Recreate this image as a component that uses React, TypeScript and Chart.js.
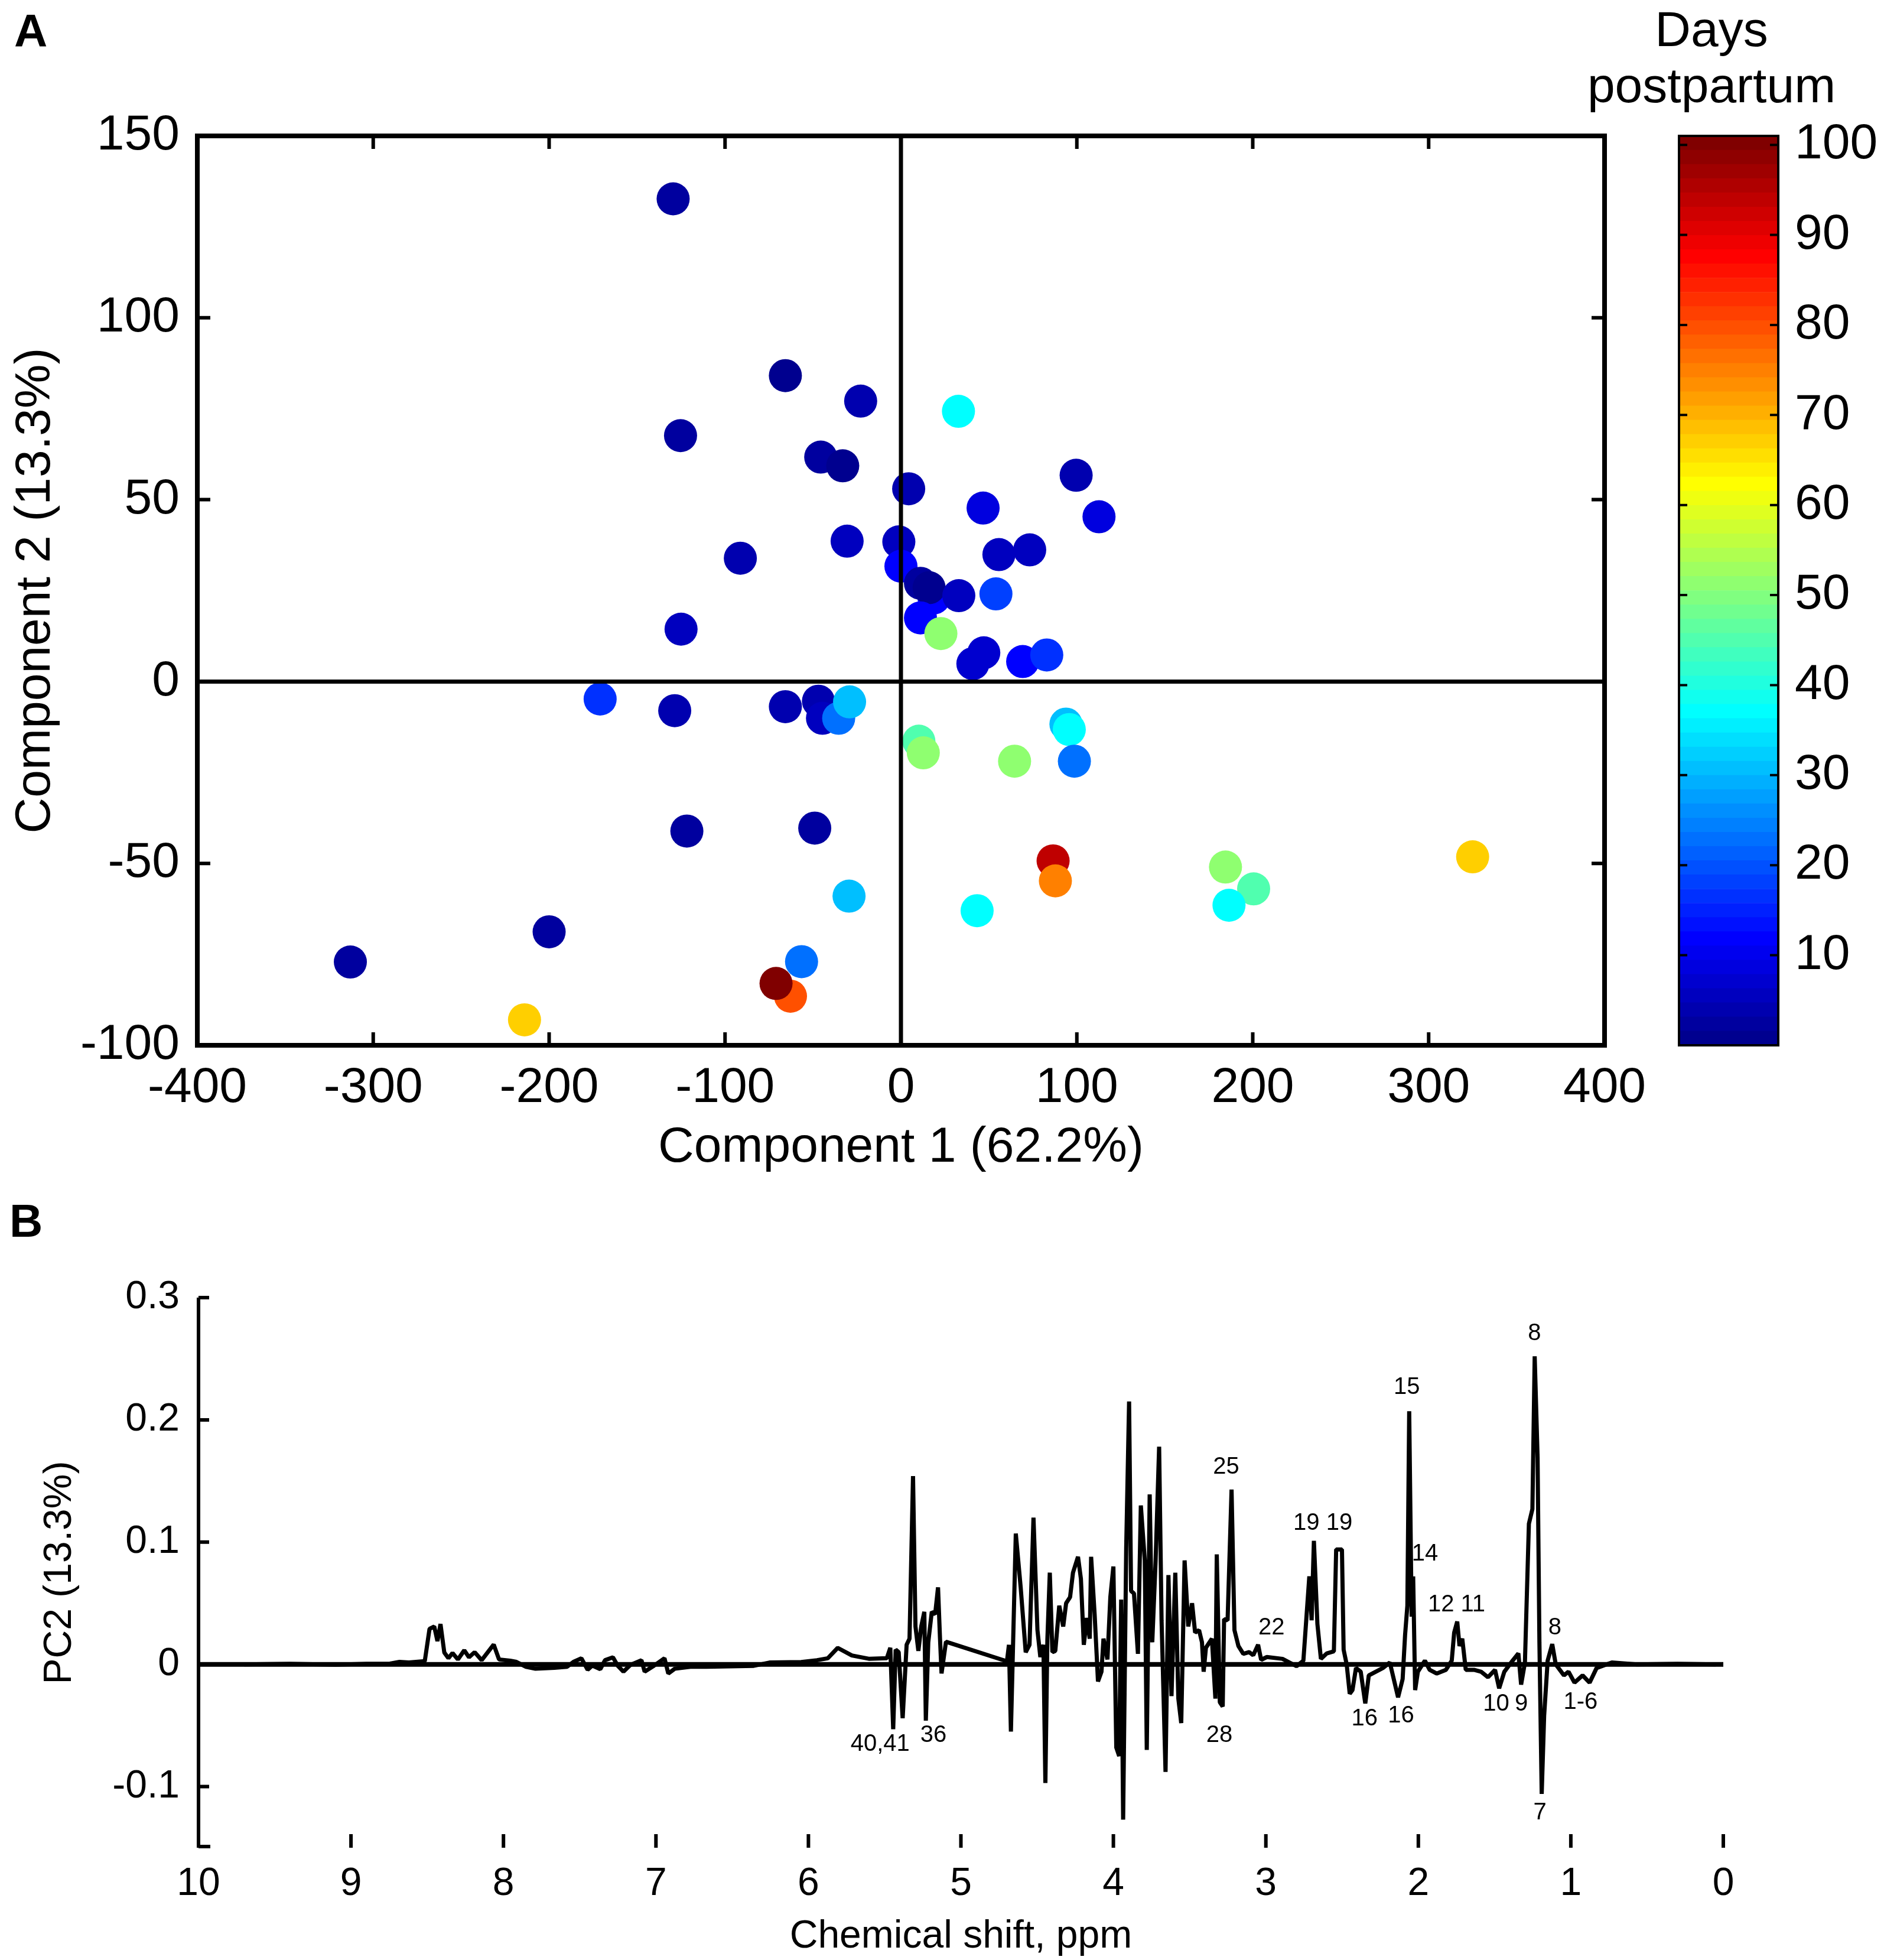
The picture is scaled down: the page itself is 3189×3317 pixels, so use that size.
import { useEffect, useRef } from 'react';
import { Chart, registerables } from 'chart.js';

Chart.register(...registerables);

const FONT = '"Liberation Sans", Arial, Helvetica, sans-serif';
Chart.defaults.color = '#000';
Chart.defaults.font.family = FONT;

// ---- Panel A: PCA scores, coloured by days postpartum
const pc1 = [-129.5, -65.7, -22.9, -125.3, -45.6, -33.1, 4.4, 99.6, 112.6, 46.7, -91.3, -30.6, -1.2, 0, 18.8, 11.1, 16.0, 32.9, 55.7, 73.2, 54.0, 11.1, 22.7, -125, 40.9, 47.1, 69.2, 82.9, 32.7, -171, -128.6, -65.7, -46.9, -44.6, -35.4, -29.2, 10.2, 12.7, 64.6, 93.8, 95.7, 98.6, -121.7, -49, 86.5, 87.8, 184.5, 200.5, 186.5, 325, -29.5, 43.3, -200, -313, -56.5, -62.8, -71, -214];
const pc2 = [132.7, 84.1, 77.1, 67.6, 61.7, 59.3, 53.0, 56.7, 45.3, 47.7, 33.9, 38.6, 38.4, 31.7, 23.0, 27.0, 25.8, 23.6, 34.9, 36.2, 24.1, 17.5, 13.2, 14.4, 4.9, 7.9, 5.5, 7.3, 74.3, -4.8, -8.0, -6.9, -5.4, -10.1, -10.1, -5.6, -16.4, -19.6, -21.9, -11.7, -13.2, -21.9, -41.1, -40.3, -49.3, -54.8, -51, -57, -61.5, -48.2, -59, -63, -68.8, -77.1, -77, -86.5, -83, -93];
const days = [2, 1, 4, 2, 3, 1, 4, 4, 9, 9, 4, 6, 6, 12, 12, 2, 1, 5, 6, 6, 18, 12, 51, 6, 7, 7, 12, 16, 37, 16, 4, 4, 4, 6, 23, 31, 45, 51, 51, 31, 37, 23, 2, 2, 94, 75, 51, 45, 37, 67, 31, 37, 2, 2, 23, 80, 100, 67];
const pc1Ticks = [-400, -300, -200, -100, 0, 100, 200, 300, 400];
const pc2Ticks = [-100, -50, 0, 50, 100, 150];
const dayTicks = [10, 20, 30, 40, 50, 60, 70, 80, 90, 100];
const DAY_MAX = 101;
const JET_LEVELS = 64;

// ---- Panel B: PC2 loadings
const ppm = [
  9.70, 9.40, 9.10, 8.90, 8.745, 8.682, 8.620, 8.516, 8.485, 8.454, 8.433, 8.413, 8.388, 8.361, 8.334, 8.299,
  8.257, 8.226, 8.189, 8.143, 8.064, 8.029, 7.956, 7.915, 7.852, 7.790, 7.666, 7.583, 7.541, 7.489, 7.448, 7.417,
  7.365, 7.334, 7.282, 7.251, 7.213, 7.168, 7.095, 7.074, 7.012, 6.944, 6.919, 6.877, 6.774, 6.670, 6.359, 6.255,
  6.047, 5.944, 5.873, 5.808, 5.715, 5.600, 5.486, 5.463, 5.444, 5.428, 5.408, 5.382, 5.356, 5.337, 5.314, 5.298,
  5.279, 5.260, 5.240, 5.230, 5.214, 5.191, 5.169, 5.150, 5.137, 5.127, 5.098, 4.698, 4.685, 4.672, 4.640, 4.608,
  4.575, 4.550, 4.524, 4.498, 4.479, 4.459, 4.446, 4.433, 4.417, 4.400, 4.381, 4.355, 4.329, 4.310, 4.284, 4.265,
  4.232, 4.213, 4.194, 4.174, 4.155, 4.146, 4.123, 4.101, 4.078, 4.065, 4.039, 4.020, 4.000, 3.981, 3.962, 3.949,
  3.936, 3.916, 3.897, 3.884, 3.865, 3.839, 3.820, 3.794, 3.781, 3.762, 3.745, 3.723, 3.700, 3.684, 3.658, 3.639,
  3.619, 3.594, 3.574, 3.555, 3.533, 3.509, 3.484, 3.464, 3.438, 3.419, 3.408, 3.393, 3.354, 3.331, 3.322, 3.302,
  3.283, 3.274, 3.251, 3.225, 3.206, 3.180, 3.148, 3.109, 3.083, 3.051, 3.031, 2.993, 2.891, 2.799, 2.754, 2.715,
  2.700, 2.685, 2.662, 2.639, 2.600, 2.554, 2.539, 2.501, 2.490, 2.470, 2.450, 2.432, 2.409, 2.378, 2.348, 2.325,
  2.279, 2.233, 2.187, 2.133, 2.103, 2.087, 2.072, 2.060, 2.044, 2.034, 2.021, 2.003, 1.957, 1.926, 1.880, 1.819,
  1.781, 1.765, 1.745, 1.730, 1.712, 1.689, 1.635, 1.589, 1.543, 1.497, 1.470, 1.436, 1.382, 1.344, 1.326, 1.301,
  1.275, 1.252, 1.237, 1.218, 1.206, 1.191, 1.175, 1.152, 1.122, 1.099, 1.045, 1.015, 0.976, 0.923, 0.877, 0.831,
  0.731, 0.566, 0.30, 0.05,
];
const loading = [
  0, 0.0005, -0.0003, 0.0004, 0.0006, 0.002, 0.0015, 0.0026, 0.029, 0.031, 0.019, 0.033, 0.0097, 0.005, 0.0093, 0.004,
  0.0115, 0.0058, 0.010, 0.0034, 0.0162, 0.004, 0.003, 0.002, -0.002, -0.0036, -0.0028, -0.002, 0.002, 0.005, -0.0044, -0.001,
  -0.004, 0.0034, 0.0058, -0.001, -0.006, -0.0005, 0.0034, -0.006, -0.001, 0.005, -0.0075, -0.0036, -0.002, -0.002, -0.0012, 0.0015,
  0.0019, 0.0034, 0.005, 0.0135, 0.0073, 0.0045, 0.005, 0.0136, -0.053, 0.012, 0.010, -0.044, 0.016, 0.021, 0.154, 0.031,
  0.011, 0.031, 0.043, -0.046, 0.018, 0.043, 0.041, 0.063, 0.021, -0.0074, 0.0185, 0.0025, 0.016, -0.055, 0.107, 0.063,
  0.0099, 0.016, 0.120, 0.028, 0.006, 0.016, -0.097, 0.020, 0.075, 0.010, 0.011, 0.048, 0.031, 0.050, 0.055, 0.075,
  0.088, 0.070, 0.016, 0.038, 0.021, 0.088, 0.041, -0.014, -0.006, 0.021, 0.004, 0.055, 0.080, -0.068, -0.075, 0.053,
  -0.127, 0.095, 0.215, 0.060, 0.058, 0.0086, 0.130, 0.085, -0.070, 0.139, 0.018, 0.085, 0.178, 0.036, -0.088, 0.073,
  -0.026, 0.075, -0.028, -0.048, 0.085, 0.031, 0.050, 0.026, 0.028, 0.018, -0.006, 0.0136, 0.021, -0.028, 0.090, -0.031,
  -0.0345, 0.037, 0.036, 0.143, 0.028, 0.015, 0.0086, 0.010, 0.0074, 0.016, 0.0037, 0.006, 0.0045, -0.0015, 0.003, 0.072,
  0.036, 0.101, 0.033, 0.0045, 0.009, 0.0106, 0.094, 0.094, 0.012, 0, -0.024, -0.021, -0.003, -0.006, -0.032, -0.009,
  -0.006, -0.003, 0.0015, -0.027, -0.012, 0.024, 0.048, 0.207, 0.039, 0.072, -0.021, -0.006, 0.003, -0.0045, -0.0075, -0.0045,
  0.003, 0.026, 0.035, 0.015, 0.021, -0.0045, -0.0045, -0.006, -0.0105, -0.0045, -0.0196, -0.006, 0.003, 0.009, -0.0166, 0.0015,
  0.115, 0.127, 0.252, 0.169, 0.018, -0.106, -0.042, 0.003, 0.0166, 0, -0.009, -0.006, -0.015, -0.009, -0.015, -0.003,
  0.0015, 0, 0.0005, 0,
];
const peakText = ['40,41', '36', '28', '25', '22', '19', '19', '16', '16', '15', '14', '12', '11', '10', '9', '8', '8', '7', '1-6'];
const peakPpm = [5.53, 5.18, 3.305, 3.26, 2.963, 2.734, 2.518, 2.353, 2.114, 2.076, 1.957, 1.851, 1.642, 1.49, 1.325, 1.238, 1.105, 1.203, 0.936];
const peakLoad = [-0.0655, -0.058, -0.058, 0.1615, 0.030, 0.1155, 0.1155, -0.0445, -0.042, 0.2265, 0.090, 0.0485, 0.0485, -0.0325, -0.0325, 0.2705, 0.030, -0.1215, -0.031];
const ppmTicks = [10, 9, 8, 7, 6, 5, 4, 3, 2, 1, 0];
const loadTicks = [-0.1, 0, 0.1, 0.2, 0.3];

function jet(i: number) {
  const r = i < 24 ? 0 : i < 40 ? (i - 23) / 16 : i < 56 ? 1 : 1 - (i - 55) / 16;
  const g = i < 8 ? 0 : i < 24 ? (i - 7) / 16 : i < 40 ? 1 : i < 56 ? 1 - (i - 39) / 16 : 0;
  const b = i < 8 ? (i + 9) / 16 : i < 24 ? 1 : i < 40 ? 1 - (i - 23) / 16 : 0;
  const c = (v: number) => Math.round(Math.max(0, Math.min(1, v)) * 255);
  return `rgb(${c(r)},${c(g)},${c(b)})`;
}
const dayColor = (d: number) => jet(Math.min(JET_LEVELS - 1, Math.floor((d / DAY_MAX) * JET_LEVELS)));
const jetColors = Array.from({ length: JET_LEVELS }, (_, i) => jet(i));

const fmt = (v: number | string) => String(Number(Number(v).toFixed(3)));
const fixTicks = (vals: number[]) => (s: any) => { s.ticks = vals.map(value => ({ value })); };

const scoreFrame = {
  id: 'scoreFrame',
  afterDatasetsDraw(chart: any) {
    const { ctx, chartArea: a, scales } = chart;
    const x0 = scales.x.getPixelForValue(0);
    const y0 = scales.y.getPixelForValue(0);
    ctx.save();
    ctx.strokeStyle = '#000';
    ctx.lineWidth = 7;
    ctx.beginPath();
    ctx.moveTo(x0, a.top); ctx.lineTo(x0, a.bottom);
    ctx.moveTo(a.left, y0); ctx.lineTo(a.right, y0);
    ctx.stroke();
    ctx.lineWidth = 6;
    ctx.beginPath();
    pc1Ticks.forEach(v => {
      const px = scales.x.getPixelForValue(v);
      ctx.moveTo(px, a.bottom); ctx.lineTo(px, a.bottom - 22);
      ctx.moveTo(px, a.top); ctx.lineTo(px, a.top + 22);
    });
    pc2Ticks.forEach(v => {
      const py = scales.y.getPixelForValue(v);
      ctx.moveTo(a.left, py); ctx.lineTo(a.left + 22, py);
      ctx.moveTo(a.right, py); ctx.lineTo(a.right - 22, py);
    });
    ctx.stroke();
    ctx.lineWidth = 8;
    ctx.strokeRect(a.left, a.top, a.right - a.left, a.bottom - a.top);
    ctx.restore();
  },
};

const barFrame = {
  id: 'barFrame',
  afterDatasetsDraw(chart: any) {
    const { ctx, chartArea: a, scales } = chart;
    ctx.save();
    ctx.strokeStyle = '#000';
    ctx.lineWidth = 4;
    ctx.beginPath();
    dayTicks.forEach(v => {
      const py = scales.y.getPixelForValue(v);
      ctx.moveTo(a.left, py); ctx.lineTo(a.left + 14, py);
      ctx.moveTo(a.right, py); ctx.lineTo(a.right - 14, py);
    });
    ctx.stroke();
    ctx.strokeRect(a.left, a.top, a.right - a.left, a.bottom - a.top);
    ctx.fillStyle = '#000';
    ctx.font = `84px ${FONT}`;
    ctx.textAlign = 'center';
    ctx.textBaseline = 'alphabetic';
    ctx.fillText('Days', a.left + 55, 78);
    ctx.fillText('postpartum', a.left + 55, 173);
    ctx.restore();
  },
};

const loadingFrame = {
  id: 'loadingFrame',
  afterDatasetsDraw(chart: any) {
    const { ctx, chartArea: a, scales } = chart;
    const y0 = scales.y.getPixelForValue(0);
    ctx.save();
    ctx.strokeStyle = '#000';
    ctx.lineWidth = 8;
    ctx.beginPath();
    ctx.moveTo(a.left, y0); ctx.lineTo(a.right, y0);
    ctx.stroke();
    ctx.lineWidth = 6;
    ctx.beginPath();
    ctx.moveTo(a.left, a.top); ctx.lineTo(a.left, a.bottom);
    loadTicks.forEach(v => {
      const py = scales.y.getPixelForValue(v);
      ctx.moveTo(a.left, py); ctx.lineTo(a.left + 18, py);
    });
    ppmTicks.forEach(v => {
      const px = scales.x.getPixelForValue(v);
      ctx.moveTo(px, a.bottom); ctx.lineTo(px, a.bottom - 23);
    });
    ctx.moveTo(a.left, a.bottom - 2); ctx.lineTo(a.left + 20, a.bottom - 2);
    ctx.stroke();
    ctx.fillStyle = '#000';
    ctx.font = `40px ${FONT}`;
    ctx.textAlign = 'center';
    ctx.textBaseline = 'middle';
    peakText.forEach((t, i) => {
      ctx.fillText(t, scales.x.getPixelForValue(peakPpm[i]), scales.y.getPixelForValue(peakLoad[i]));
    });
    ctx.restore();
  },
};

function ScorePlot() {
  const canvasRef = useRef<HTMLCanvasElement>(null);
  useEffect(() => {
    if (!canvasRef.current) return;
    const chart = new Chart(canvasRef.current, {
      type: 'scatter',
      data: {
        datasets: [{
          data: pc1.map((x, i) => ({ x, y: pc2[i] })),
          pointBackgroundColor: days.map(dayColor),
          pointBorderWidth: 0,
          pointRadius: 28,
          pointHoverRadius: 28,
        }],
      },
      options: {
        responsive: false,
        animation: false,
        devicePixelRatio: 1,
        events: [],
        layout: { padding: { top: 230, right: 184, left: 0, bottom: 0 } },
        plugins: { legend: { display: false }, tooltip: { enabled: false } },
        scales: {
          x: {
            type: 'linear', min: -400, max: 400,
            afterBuildTicks: fixTicks(pc1Ticks),
            afterFit: (s: any) => { s.height = 231; },
            grid: { display: false, drawTicks: false },
            border: { display: false },
            ticks: { font: { size: 84 }, padding: 22, maxRotation: 0, autoSkip: false, callback: fmt },
            title: { display: true, text: 'Component 1 (62.2%)', font: { size: 84 }, padding: { top: 0, bottom: 7 } },
          },
          y: {
            type: 'linear', min: -100, max: 150,
            afterBuildTicks: fixTicks(pc2Ticks),
            afterFit: (s: any) => { s.width = 334; },
            grid: { display: false, drawTicks: false },
            border: { display: false },
            ticks: { font: { size: 84 }, padding: 30, autoSkip: false, callback: fmt },
            title: { display: true, text: 'Component 2 (13.3%)', font: { size: 84 }, padding: { top: 10, bottom: 0 } },
          },
        },
      } as any,
      plugins: [scoreFrame],
    });
    return () => { chart.destroy(); };
  }, []);
  return <canvas ref={canvasRef} width={2900} height={2000} style={{ position: 'absolute', left: 0, top: 0 }} />;
}

function ColorBar() {
  const canvasRef = useRef<HTMLCanvasElement>(null);
  useEffect(() => {
    if (!canvasRef.current) return;
    const chart = new Chart(canvasRef.current, {
      type: 'bar',
      data: {
        labels: ['days'],
        datasets: jetColors.map(c => ({
          data: [DAY_MAX / JET_LEVELS],
          backgroundColor: c,
          borderWidth: 0,
          barPercentage: 1,
          categoryPercentage: 1,
        })),
      },
      options: {
        responsive: false,
        animation: false,
        devicePixelRatio: 1,
        events: [],
        layout: { padding: { top: 230, right: 0, left: 242, bottom: 231 } },
        plugins: { legend: { display: false }, tooltip: { enabled: false } },
        scales: {
          x: { display: false, stacked: true },
          y: {
            stacked: true, position: 'right', min: 0, max: DAY_MAX,
            afterBuildTicks: fixTicks(dayTicks),
            afterFit: (s: any) => { s.width = 179; },
            grid: { display: false, drawTicks: false },
            border: { display: false },
            ticks: { font: { size: 84 }, padding: 28, autoSkip: false, callback: fmt },
          },
        },
      } as any,
      plugins: [barFrame],
    });
    return () => { chart.destroy(); };
  }, []);
  return <canvas ref={canvasRef} width={589} height={2000} style={{ position: 'absolute', left: 2600, top: 0 }} />;
}

function LoadingPlot() {
  const canvasRef = useRef<HTMLCanvasElement>(null);
  useEffect(() => {
    if (!canvasRef.current) return;
    const chart = new Chart(canvasRef.current, {
      type: 'line',
      data: {
        datasets: [{
          data: ppm.map((x, i) => ({ x, y: loading[i] })),
          borderColor: '#000',
          borderWidth: 7,
          borderJoinStyle: 'bevel',
          pointRadius: 0,
          tension: 0,
          fill: false,
        }],
      },
      options: {
        responsive: false,
        animation: false,
        devicePixelRatio: 1,
        events: [],
        layout: { padding: { top: 196, right: 272, left: 0, bottom: 0 } },
        plugins: { legend: { display: false }, tooltip: { enabled: false } },
        scales: {
          x: {
            type: 'linear', min: 0, max: 10, reverse: true,
            afterBuildTicks: fixTicks(ppmTicks),
            afterFit: (s: any) => { s.height = 190; },
            grid: { display: false, drawTicks: false },
            border: { display: false },
            ticks: { font: { size: 66 }, padding: 22, maxRotation: 0, autoSkip: false, callback: fmt },
            title: { display: true, text: 'Chemical shift, ppm', font: { size: 66 }, padding: { top: 0, bottom: 0 } },
          },
          y: {
            type: 'linear', min: -0.15, max: 0.3,
            afterBuildTicks: fixTicks(loadTicks),
            afterFit: (s: any) => { s.width = 336; },
            grid: { display: false, drawTicks: false },
            border: { display: false },
            ticks: { font: { size: 66 }, padding: 32, autoSkip: false, callback: fmt },
            title: { display: true, text: 'PC2 (13.3%)', font: { size: 66 }, padding: { top: 62, bottom: 0 } },
          },
        },
      } as any,
      plugins: [loadingFrame],
    });
    return () => { chart.destroy(); };
  }, []);
  return <canvas ref={canvasRef} width={3189} height={1317} style={{ position: 'absolute', left: 0, top: 2000 }} />;
}

const panelLetter = { position: 'absolute' as const, fontFamily: FONT, fontWeight: 700, fontSize: 78, lineHeight: 1, color: '#000' };

export default function App() {
  return (
    <div style={{ position: 'absolute', left: 0, top: 0, width: 3189, height: 3317, background: '#fff', overflow: 'hidden' }}>
      <div style={{ ...panelLetter, left: 24, top: 13 }}>A</div>
      <ScorePlot />
      <ColorBar />
      <div style={{ ...panelLetter, left: 16, top: 2027 }}>B</div>
      <LoadingPlot />
    </div>
  );
}
